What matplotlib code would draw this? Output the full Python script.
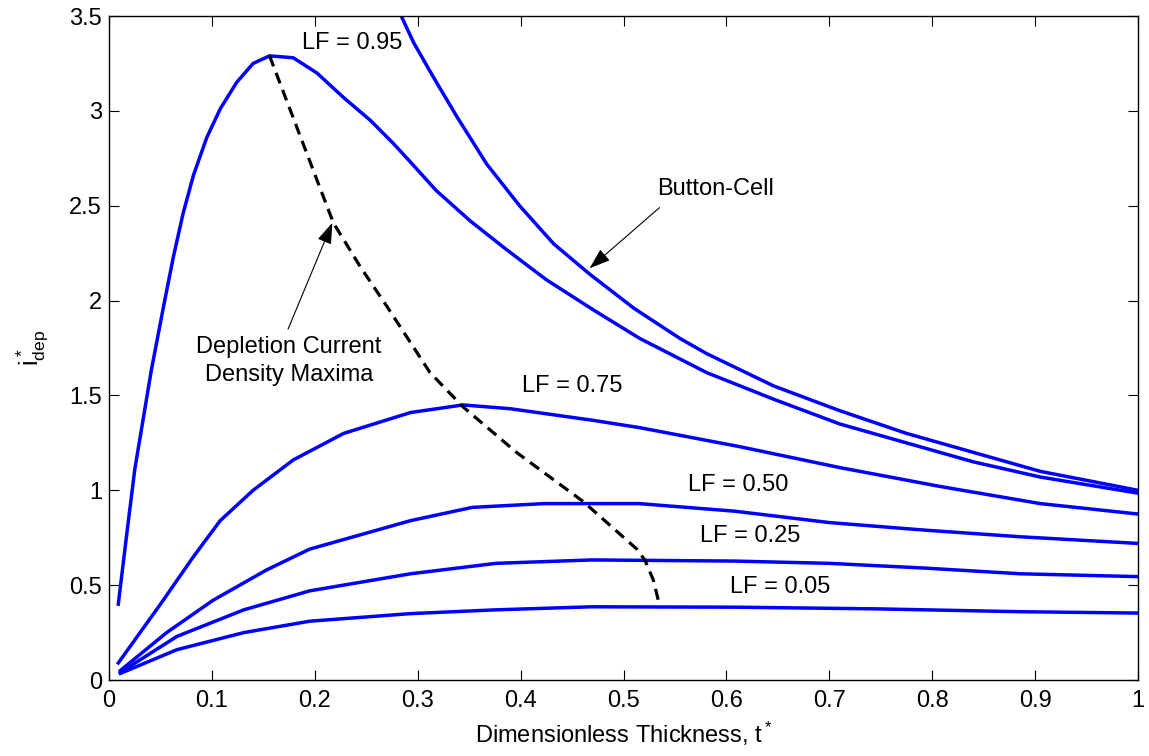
import numpy as np
import matplotlib
matplotlib.use('Agg')
import matplotlib.pyplot as plt

plt.rcParams['font.family'] = ['Liberation Sans', 'DejaVu Sans']
plt.rcParams['mathtext.fontset'] = 'custom'
plt.rcParams['mathtext.rm'] = 'Liberation Sans'

# curves: dimensionless thickness t* vs i*_dep
t_095 = [0.009, 0.017, 0.025, 0.033, 0.041, 0.053, 0.0625, 0.072, 0.082, 0.095,
         0.108, 0.124, 0.140, 0.156, 0.179, 0.202, 0.228, 0.254, 0.276, 0.293,
         0.318, 0.351, 0.386, 0.425, 0.471, 0.516, 0.581, 0.646, 0.710, 0.775,
         0.840, 0.905, 1.0]
i_095 = [0.40, 0.76, 1.11, 1.37, 1.63, 1.97, 2.23, 2.46, 2.66, 2.86,
         3.01, 3.15, 3.25, 3.29, 3.28, 3.20, 3.07, 2.95, 2.83, 2.73,
         2.58, 2.42, 2.27, 2.11, 1.95, 1.80, 1.62, 1.48, 1.35, 1.25,
         1.15, 1.07, 0.985]

t_button = [0.276, 0.284, 0.296, 0.315, 0.338, 0.367, 0.399, 0.432, 0.467, 0.510,
            0.555, 0.581, 0.646, 0.710, 0.775, 0.840, 0.905, 1.0]
i_button = [3.56, 3.50, 3.36, 3.18, 2.97, 2.72, 2.50, 2.30, 2.14, 1.96,
            1.80, 1.72, 1.55, 1.42, 1.30, 1.20, 1.10, 1.00]

t_075 = [0.009, 0.050, 0.082, 0.108, 0.140, 0.179, 0.228, 0.293, 0.344, 0.390,
         0.469, 0.516, 0.613, 0.710, 0.808, 0.905, 1.0]
i_075 = [0.09, 0.40, 0.65, 0.84, 1.00, 1.16, 1.30, 1.41, 1.45, 1.43,
         1.37, 1.33, 1.23, 1.12, 1.02, 0.93, 0.875]

t_050 = [0.011, 0.056, 0.101, 0.153, 0.195, 0.293, 0.353, 0.423, 0.515, 0.608,
         0.700, 0.793, 0.886, 1.0]
i_050 = [0.05, 0.25, 0.42, 0.58, 0.69, 0.84, 0.91, 0.93, 0.93, 0.89,
         0.83, 0.79, 0.755, 0.72]

t_025 = [0.011, 0.066, 0.131, 0.195, 0.293, 0.376, 0.469, 0.608, 0.700, 0.793,
         0.886, 1.0]
i_025 = [0.04, 0.23, 0.37, 0.47, 0.56, 0.615, 0.633, 0.627, 0.615, 0.59,
         0.56, 0.545]

t_005 = [0.011, 0.066, 0.131, 0.195, 0.293, 0.376, 0.469, 0.608, 0.747, 0.886, 1.0]
i_005 = [0.035, 0.16, 0.25, 0.31, 0.35, 0.37, 0.386, 0.384, 0.375, 0.36, 0.353]

# locus of maxima (dashed)
t_max = [0.156, 0.218, 0.244, 0.270, 0.312, 0.344, 0.396, 0.461, 0.513, 0.521, 0.529, 0.535]
i_max = [3.29, 2.41, 2.18, 1.97, 1.62, 1.44, 1.20, 0.94, 0.69, 0.63, 0.527, 0.395]

fig = plt.figure(figsize=(11.49, 7.56), dpi=100)
ax = fig.add_axes([0.0949, 0.1005, 0.8955, 0.8783])

blue = (0, 0, 1)
for t, i in [(t_095, i_095), (t_button, i_button), (t_075, i_075),
             (t_050, i_050), (t_025, i_025), (t_005, i_005)]:
    ax.plot(t, i, color=blue, lw=2.5, solid_joinstyle='round')

ax.plot(t_max, i_max, color='black', lw=2.3, dashes=(3.5, 2.2))

fs = 17
ax.text(0.236, 3.36, 'LF = 0.95', fontsize=fs, ha='center', va='center')
ax.text(0.450, 1.55, 'LF = 0.75', fontsize=fs, ha='center', va='center')
ax.text(0.611, 1.03, 'LF = 0.50', fontsize=fs, ha='center', va='center')
ax.text(0.623, 0.76, 'LF = 0.25', fontsize=fs, ha='center', va='center')
ax.text(0.652, 0.49, 'LF = 0.05', fontsize=fs, ha='center', va='center')

arrow = dict(arrowstyle='-|>,head_length=1.3,head_width=0.45', color='black',
             lw=0.8, shrinkA=0, shrinkB=0)
ax.text(0.533, 2.59, 'Button-Cell', fontsize=fs, ha='left', va='center')
ax.annotate('', xy=(0.467, 2.17), xytext=(0.535, 2.49), arrowprops=arrow)
ax.text(0.175, 1.68, 'Depletion Current\nDensity Maxima', fontsize=fs,
        ha='center', va='center', linespacing=1.35)
ax.annotate('', xy=(0.217, 2.41), xytext=(0.174, 1.85), arrowprops=arrow)

ax.set_xlim(0, 1)
ax.set_ylim(0, 3.5)
xt = np.arange(0, 1.01, 0.1)
ax.set_xticks(xt)
ax.set_xticklabels(['0', '0.1', '0.2', '0.3', '0.4', '0.5', '0.6', '0.7', '0.8', '0.9', '1'])
yt = np.arange(0, 3.51, 0.5)
ax.set_yticks(yt)
ax.set_yticklabels(['0', '0.5', '1', '1.5', '2', '2.5', '3', '3.5'])
ax.tick_params(direction='in', length=7, width=0.8, top=True, right=True,
               labelsize=fs)
ax.tick_params(axis='x', pad=7)
ax.tick_params(axis='y', pad=5)
for s in ax.spines.values():
    s.set_linewidth(1.0)

ax.set_xlabel(r'Dimensionless Thickness, $\mathregular{t^*}$', fontsize=17, labelpad=6)
ax.set_ylabel(r'$\mathregular{i^*_{dep}}$', fontsize=18, labelpad=14)

fig.savefig('out.png', dpi=100)
